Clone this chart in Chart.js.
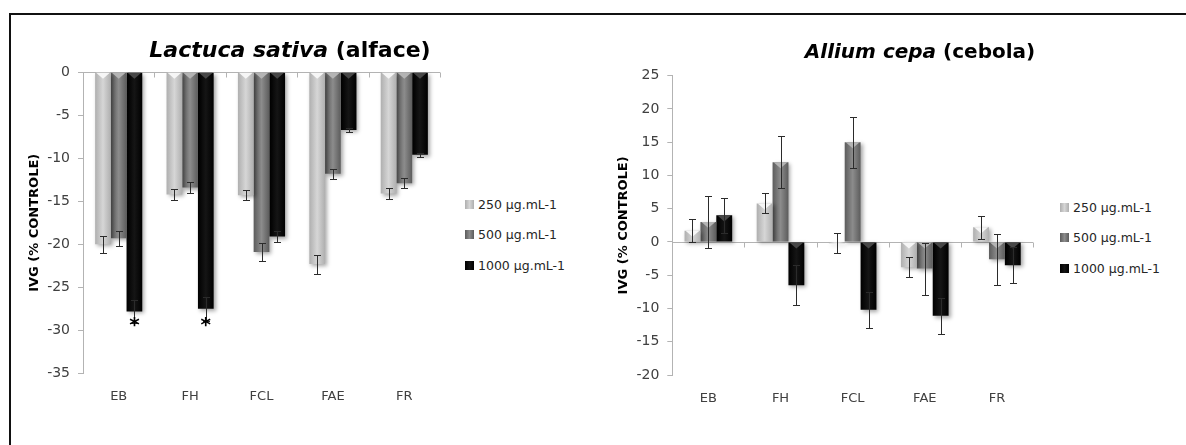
<!DOCTYPE html>
<html>
<head>
<meta charset="utf-8">
<script src="https://cdn.jsdelivr.net/npm/chart.js@4"></script>
<style>
  body { margin: 0; background: #fff; width: 1186px; height: 445px; overflow: hidden; position: relative; font-family: "DejaVu Sans"; }
  .frame { position: absolute; left: 9px; top: 13px; width: 1300px; height: 600px; border-top: 2px solid #111; border-left: 2px solid #111; }
  canvas { position: absolute; top: 0; }
  .title { position: absolute; top: 40px; transform: translateX(-50%); white-space: nowrap; font-weight: bold; font-family: "DejaVu Sans"; color: #000; line-height: 1; }
  .legend { position: absolute; font-size: 12.5px; color: #262626; }
  .legend div { display: flex; align-items: center; height: 16px; margin-bottom: 14.5px; white-space: nowrap; }
  .sw { width: 9px; height: 9px; margin-right: 4px; }
</style>
</head>
<body>
<div class="frame"></div>
<canvas id="alface" width="450" height="445" style="left:0px"></canvas>
<canvas id="cebola" width="450" height="445" style="left:590px"></canvas>
<div class="title" style="left:290px; font-size:22px; top:39px"><i>Lactuca sativa</i> (alface)</div>
<div class="title" style="left:920px; font-size:20px; top:41px"><i>Allium cepa</i> (cebola)</div>
<div class="legend" id="legAlface" style="left:465px; top:196px"></div>
<div class="legend" id="legCebola" style="left:1060px; top:199px"></div>
<script>
const categories = ["EB", "FH", "FCL", "FAE", "FR"];
const doses = ["250 µg.mL-1", "500 µg.mL-1", "1000 µg.mL-1"];

// Lactuca sativa (alface)
const alface250 = [-20.0, -14.2, -14.3, -22.3, -14.1];
const alface500 = [-19.3, -13.4, -20.9, -11.8, -12.9];
const alface1000 = [-27.8, -27.5, -19.1, -6.7, -9.6];
const alfaceErr250 = [1.0, 0.6, 0.6, 1.1, 0.6];
const alfaceErr500 = [0.9, 0.6, 1.0, 0.6, 0.6];
const alfaceErr1000 = [1.3, 1.4, 0.6, 0.25, 0.2];
const alfaceTicks = [0, -5, -10, -15, -20, -25, -30, -35];
const alfaceStars = ["EB", "FH"]; // marked 1000 µg.mL-1 bars
const starValue = -29;

// Allium cepa (cebola)
const cebola250 = [1.7, 5.8, -0.2, -3.8, 2.2];
const cebola500 = [3.0, 12.0, 15.0, -4.0, -2.6];
const cebola1000 = [4.0, -6.5, -10.2, -11.1, -3.5];
const cebolaErr250 = [1.7, 1.5, 1.5, 1.5, 1.7];
const cebolaErr500 = [3.9, 3.9, 3.85, 3.9, 3.85];
const cebolaErr1000 = [2.6, 3.0, 2.7, 2.7, 2.7];
const cebolaTicks = [25, 20, 15, 10, 5, 0, -5, -10, -15, -20];

// edge, middle, bevel
const barShades = [
  ["#afafaf", "#d6d6d6", "#f6f6f6"],
  ["#5c5c5c", "#8c8c8c", "#b4b4b4"],
  ["#000000", "#151515", "#474747"]
];

// Excel-ish bars: shaded columns, bevel notch, zero axis, error bars, stars
const excelBars = {
  id: "excelBars",
  beforeDatasetsDraw(chart) {
    const { ctx, chartArea, scales: { y } } = chart;
    const y0 = Math.round(y.getPixelForValue(0)) + 0.5;
    const step = chartArea.width / categories.length;
    ctx.save();
    ctx.strokeStyle = "#b3b3b3";
    ctx.lineWidth = 1;
    ctx.beginPath();
    ctx.moveTo(chartArea.left, y0);
    ctx.lineTo(chartArea.right, y0);
    for (let i = 0; i <= categories.length; i++) {
      const xx = Math.round(chartArea.left + i * step) + 0.5;
      ctx.moveTo(xx, y0);
      ctx.lineTo(xx, y0 + 5);
    }
    ctx.stroke();
    ctx.restore();

    chart.data.datasets.forEach((ds, di) => {
      const shade = barShades[di];
      chart.getDatasetMeta(di).data.forEach(bar => {
        const g = ctx.createLinearGradient(bar.x - bar.width / 2, 0, bar.x + bar.width / 2, 0);
        g.addColorStop(0, shade[0]);
        g.addColorStop(0.5, shade[1]);
        g.addColorStop(1, shade[0]);
        bar.options = Object.assign({}, bar.options, { backgroundColor: g });
      });
    });
  },
  beforeDatasetDraw(chart) {
    const ctx = chart.ctx;
    ctx.save();
    ctx.shadowColor = "rgba(0,0,0,0.35)";
    ctx.shadowBlur = 4;
    ctx.shadowOffsetX = 2;
    ctx.shadowOffsetY = 2;
  },
  afterDatasetDraw(chart) {
    chart.ctx.restore();
  },
  afterDatasetsDraw(chart, args, opts) {
    const { ctx, scales: { y } } = chart;
    ctx.save();
    chart.data.datasets.forEach((ds, di) => {
      chart.getDatasetMeta(di).data.forEach(bar => {
        const top = Math.min(bar.y, bar.base);
        const d = Math.min(bar.width * 0.38, Math.abs(bar.base - bar.y));
        ctx.fillStyle = barShades[di][2];
        ctx.beginPath();
        ctx.moveTo(bar.x - bar.width / 2 + 1, top);
        ctx.lineTo(bar.x + bar.width / 2 - 1, top);
        ctx.lineTo(bar.x, top + d);
        ctx.closePath();
        ctx.fill();
      });
    });

    ctx.strokeStyle = "#2b2b2b";
    ctx.lineWidth = 1;
    opts.errors.forEach((errs, di) => {
      const values = chart.data.datasets[di].data;
      chart.getDatasetMeta(di).data.forEach((bar, i) => {
        const yt = Math.round(y.getPixelForValue(values[i] + errs[i])) + 0.5;
        const yb = Math.round(y.getPixelForValue(values[i] - errs[i])) + 0.5;
        const xx = Math.round(bar.x) + 0.5;
        ctx.beginPath();
        ctx.moveTo(xx, yt); ctx.lineTo(xx, yb);
        ctx.moveTo(xx - 3.5, yt); ctx.lineTo(xx + 3.5, yt);
        ctx.moveTo(xx - 3.5, yb); ctx.lineTo(xx + 3.5, yb);
        ctx.stroke();
      });
    });

    (opts.stars || []).forEach(cat => {
      const bar = chart.getDatasetMeta(2).data[categories.indexOf(cat)];
      ctx.fillStyle = "#000";
      ctx.font = 'bold 20px "DejaVu Sans"';
      ctx.textAlign = "center";
      ctx.textBaseline = "middle";
      ctx.fillText("*", bar.x, y.getPixelForValue(opts.starValue) + 4);
    });
    ctx.restore();
  }
};

function makeChart(id, series, errors, ticks, pad, stars) {
  const sorted = [...ticks].sort((a, b) => a - b);
  return new Chart(document.getElementById(id), {
    type: "bar",
    data: {
      labels: categories,
      datasets: series.map((d, i) => ({
        label: doses[i],
        data: d,
        backgroundColor: () => barShades[i][1],
        borderWidth: 0,
        categoryPercentage: 0.66,
        barPercentage: 1
      }))
    },
    options: {
      responsive: false,
      animation: false,
      layout: { padding: pad },
      plugins: {
        legend: { display: false },
        tooltip: { enabled: false },
        excelBars: { errors: errors, stars: stars, starValue: starValue }
      },
      scales: {
        x: {
          grid: { display: false, drawTicks: false },
          border: { display: false },
          ticks: { color: "#404040", font: { family: "DejaVu Sans", size: 13 }, padding: 16 },
          afterFit: s => { s.height = 40; }
        },
        y: {
          min: sorted[0],
          max: sorted[sorted.length - 1],
          afterBuildTicks: s => { s.ticks = sorted.map(v => ({ value: v })); },
          grid: { drawOnChartArea: false, tickLength: 5, color: "#b3b3b3" },
          border: { color: "#b3b3b3" },
          ticks: { color: "#404040", font: { family: "DejaVu Sans", size: 14 }, padding: 8 },
          title: {
            display: true,
            text: "IVG (% CONTROLE)",
            color: "#000",
            font: { family: "DejaVu Sans", size: 13, weight: "bold" },
            padding: { top: 4, bottom: 4 }
          },
          afterFit: s => { s.width = 60; }
        }
      }
    },
    plugins: [excelBars]
  });
}

makeChart("alface",
  [alface250, alface500, alface1000],
  [alfaceErr250, alfaceErr500, alfaceErr1000],
  alfaceTicks, { left: 23, top: 72.3, right: 10, bottom: 31.7 }, alfaceStars);

makeChart("cebola",
  [cebola250, cebola500, cebola1000],
  [cebolaErr250, cebolaErr500, cebolaErr1000],
  cebolaTicks, { left: 22.3, top: 75.7, right: 7, bottom: 30 }, []);

// legends
["legAlface", "legCebola"].forEach(id => {
  const box = document.getElementById(id);
  doses.forEach((name, i) => {
    const row = document.createElement("div");
    const sw = document.createElement("span");
    sw.className = "sw";
    sw.style.background = "linear-gradient(to right," + barShades[i][0] + "," + barShades[i][1] + "," + barShades[i][0] + ")";
    row.appendChild(sw);
    row.appendChild(document.createTextNode(name));
    box.appendChild(row);
  });
});
</script>
</body>
</html>
